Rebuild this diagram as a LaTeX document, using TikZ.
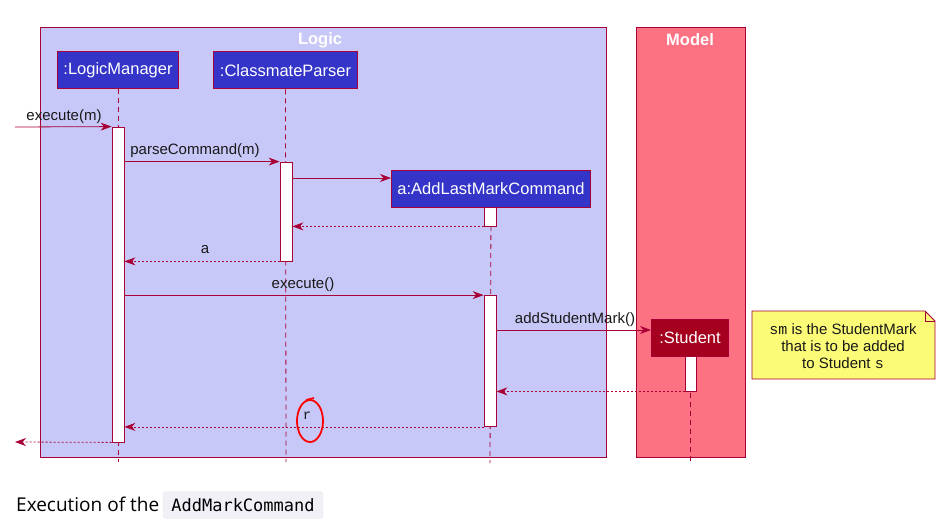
\documentclass[tikz,border=0pt]{standalone}
\usepackage{fontspec}
\setmainfont{Liberation Sans}
\newfontfamily\captionfont{Open Sans}
\newfontfamily\codefont{DejaVu Sans Mono}
\setmonofont{Liberation Mono}
\usepackage{xcolor}
\usetikzlibrary{arrows.meta}

\definecolor{umlborder}{HTML}{A80036}
\definecolor{logicfill}{HTML}{C8C8F8}
\definecolor{modelfill}{HTML}{FC7282}
\definecolor{partfill}{HTML}{3434C8}
\definecolor{studentfill}{HTML}{A5001E}
\definecolor{notefill}{HTML}{FBFB77}
\definecolor{codebg}{HTML}{F0F0F6}

\begin{document}
\begin{tikzpicture}[
    x=1pt, y=-1pt,
    pkg/.style={draw=umlborder, line width=0.9pt},
    pkglabel/.style={text=white, font=\fontsize{16.5}{18}\selectfont\bfseries},
    participant/.style={rectangle, draw=umlborder, line width=1pt, fill=partfill, text=white,
        minimum height=37pt, inner xsep=6pt, font=\fontsize{16.5}{18}\selectfont},
    bar/.style={rectangle, draw=umlborder, fill=white, line width=0.8pt, minimum width=12pt, inner sep=0pt},
    lifeline/.style={draw=umlborder, dashed, dash pattern=on 5pt off 4pt, line width=0.8pt},
    msg/.style={draw=umlborder, line width=0.8pt, -{Stealth[length=11pt,width=8pt,inset=3.5pt]}},
    ret/.style={msg, dash pattern=on 2pt off 2pt},
    msglabel/.style={font=\fontsize{15}{17}\selectfont, text=black!90, inner sep=1pt}
]
\useasboundingbox[fill=white] (0,0) rectangle (947,529);

% Paquets
\draw[pkg, fill=logicfill] (40,27) rectangle (606,457);
\node[pkglabel] (logic) at (320,40) {Logic};
\draw[pkg, fill=modelfill] (636,27) rectangle (745,457);
\node[pkglabel] (model) at (690,40) {Model};

% Participants
\node[participant] (lm) at (118,70.5) {:LogicManager};
\node[participant] (cp) at (285.5,70.5) {:ClassmateParser};
\node[participant] (cmd) at (491,189) {a:AddLastMarkCommand};
\node[participant, fill=studentfill, minimum width=77pt] (st) at (690,338) {:Student};

% Lignes de vie
\coordinate (lmend) at (118,462);
\coordinate (cpend) at (286,462);
\coordinate (cmdend) at (490,463);
\coordinate (stend) at (690,463);
\draw[lifeline] (lm.south) -- (lmend);
\draw[lifeline] (cp.south) -- (cpend);
\draw[lifeline] (cmd.south) -- (cmdend);
\draw[lifeline] (st.south) -- (stend);

% Barres d'activation
\node[bar, minimum height=315pt] (lm1) at (118,284.5) {};
\node[bar, minimum height=99pt] (cp1) at (286,211.5) {};
\node[bar, minimum height=19pt] (cmd1) at (490,216.5) {};
\node[bar, minimum height=131pt] (cmd2) at (490,361) {};
\node[bar, minimum height=35pt, minimum width=11pt] (st1) at (690.5,373.5) {};

% Messages
\coordinate (in) at (15,127);
\coordinate (out) at (15,442);
\draw[msg] (in) -- (lm1.north west);
\node[msglabel] (l1) at (64,117) {execute(m)};
\draw[msg] (lm1.east |- cp1.north) -- (cp1.north west);
\node[msglabel] (l2) at (195,151) {parseCommand(m)};
\draw[msg] (cp1.east |- 0,178) -- (cmd.west |- 0,178);
\draw[ret] (cmd1.south west) -- (cp1.east |- cmd1.south);
\draw[ret] (cp1.south west) -- (lm1.east |- cp1.south);
\node[msglabel] (l3) at (205,250) {a};
\draw[msg] (lm1.east |- cmd2.north) -- (cmd2.north west);
\node[msglabel] (l4) at (303,285) {execute()};
\draw[msg] (cmd2.east |- 0,330) -- (st.west |- 0,330);
\node[msglabel] (l5) at (575,320) {addStudentMark()};
\draw[ret] (st1.south west) -- (cmd2.east |- st1.south);
\draw[ret] (cmd2.south west) -- (lm1.east |- cmd2.south);
\node[msglabel, font=\ttfamily\fontsize{14}{16}\selectfont] (l6) at (307,416) {r};
\draw[ret] (lm1.south west) -- (out);

% Cercle rouge
\draw[red, line width=1.8pt] (310,421) ellipse [x radius=13pt, y radius=21pt];
\draw[red, line width=1.8pt] (306,400) -- (314,398);

% Note
\draw[draw=umlborder, fill=notefill, line width=0.8pt]
    (752,311) -- (925,311) -- (935,321) -- (935,379) -- (752,379) -- cycle;
\draw[draw=umlborder, line width=0.8pt] (925,311) -- (925,321) -- (935,321);
\node[align=center, font=\fontsize{15}{17}\selectfont, text=black!90] (note) at (843,346)
    {\texttt{sm} is the StudentMark\\that is to be added\\to Student \texttt{s}};

% Legende
\node[anchor=base west, inner sep=0pt, font=\captionfont\fontsize{19}{22}\selectfont] (cap) at (16,511) {Execution of the};
\node[rectangle, draw=black!8, fill=codebg, rounded corners=3pt,
    minimum width=160pt, minimum height=27pt, font=\codefont\fontsize{17}{19}\selectfont] (code) at (243,505) {AddMarkCommand};
\end{tikzpicture}
\end{document}
